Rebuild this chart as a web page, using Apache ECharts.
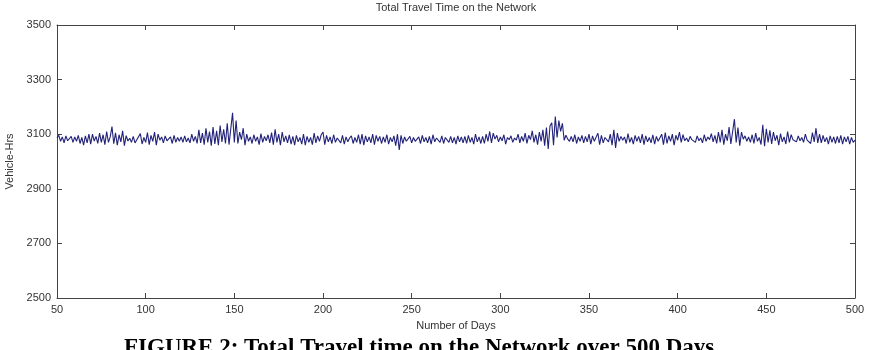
<!DOCTYPE html>
<html><head><meta charset="utf-8">
<script src="https://cdn.jsdelivr.net/npm/echarts@6/dist/echarts.min.js"></script>
<style>html,body{margin:0;padding:0;background:#fff;}#c{width:878px;height:350px;}</style>
</head><body><div id="c"></div>
<script>
var startDay = 50;
var travelTime = [
3086,3096,3074,3090,3068,3094,3076,3072,3092,3070,
3090,3074,3096,3066,3088,3060,3094,3068,3100,3064,
3100,3075,3092,3066,3104,3070,3098,3062,3110,3070,
3090,3128,3065,3105,3060,3098,3072,3112,3058,3095,
3075,3085,3070,3092,3068,3080,3076,3102,3064,3088,
3070,3106,3062,3096,3074,3108,3060,3100,3078,3090,
3068,3094,3076,3072,3090,3066,3096,3070,3088,3074,
3090,3070,3094,3072,3086,3068,3100,3074,3092,3066,
3116,3068,3104,3062,3122,3070,3110,3058,3126,3064,
3112,3060,3132,3072,3118,3066,3140,3062,3120,3178,
3070,3150,3066,3108,3080,3122,3060,3100,3074,3090,
3066,3098,3074,3090,3062,3102,3070,3092,3076,3098,
3068,3106,3062,3118,3070,3100,3060,3108,3072,3094,
3068,3098,3064,3092,3060,3096,3072,3088,3064,3100,
3060,3092,3070,3088,3062,3104,3068,3094,3074,3098,
3108,3062,3096,3072,3090,3066,3098,3070,3086,3092,
3068,3096,3064,3090,3072,3086,3094,3066,3088,3070,
3098,3064,3100,3060,3094,3072,3090,3068,3100,3062,
3096,3074,3092,3066,3090,3070,3098,3064,3088,3072,
3094,3058,3100,3042,3096,3066,3090,3074,3072,3092,
3068,3088,3074,3070,3090,3066,3096,3072,3088,3068,
3092,3064,3098,3072,3086,3090,3070,3094,3066,3088,
3086,3070,3092,3068,3088,3064,3094,3072,3090,3068,
3092,3066,3096,3070,3088,3064,3100,3072,3090,3066,
3092,3066,3100,3074,3110,3068,3104,3082,3096,3072,
3090,3076,3098,3064,3088,3080,3094,3070,3086,3078,
3100,3068,3092,3074,3104,3066,3096,3080,3112,3070,
3098,3062,3108,3074,3116,3058,3124,3046,3130,3142,
3060,3165,3088,3150,3110,3140,3078,3096,3082,3074,
3092,3072,3098,3066,3090,3074,3096,3068,3092,3072,
3100,3064,3094,3074,3070,3104,3062,3096,3068,3088,
3088,3072,3100,3060,3116,3050,3104,3074,3092,3078,
3090,3066,3102,3070,3088,3064,3096,3074,3092,3068,
3100,3062,3094,3072,3088,3068,3098,3064,3092,3074,
3070,3100,3062,3106,3066,3094,3074,3100,3060,3096,
3078,3108,3070,3098,3076,3086,3072,3092,3080,3084,
3070,3094,3076,3086,3068,3098,3074,3090,3080,3102,
3072,3096,3066,3108,3070,3116,3062,3100,3076,3126,
3064,3110,3155,3070,3124,3058,3108,3082,3094,3074,
3090,3070,3098,3066,3104,3074,3088,3062,3134,3056,
3120,3070,3114,3064,3108,3076,3096,3060,3102,3072,
3090,3064,3110,3070,3098,3080,3086,3072,3094,3076,
3088,3070,3100,3078,3084,3066,3106,3072,3122,3068,
3100,3068,3096,3072,3088,3064,3094,3070,3090,3066,
3092,3068,3096,3064,3090,3072,3092,3064,3088,3070,
3078
];
var xTicks = [50,100,150,200,250,300,350,400,450,500];
var yTicks = [2500,2700,2900,3100,3300,3500];
var titleText = 'Total Travel Time on the Network';
var xName = 'Number of Days';
var yName = 'Vehicle-Hrs';
var captionText = 'FIGURE 2: Total Travel time on the Network over 500 Days';

var points = travelTime.map(function(v,i){return [startDay+i, v];});
var font = 'Arial, "Liberation Sans", sans-serif';
var txt = '#333';
var axisCommon = {
  axisLine:{show:true,onZero:false,lineStyle:{color:'#444',width:1}},
  axisTick:{show:true,inside:true,length:5,lineStyle:{color:'#444'}},
  splitLine:{show:false}
};
var chart = echarts.init(document.getElementById('c'));
chart.setOption({
  animation:false,
  backgroundColor:'#fff',
  title:{text:titleText,left:456,top:2,padding:0,textAlign:'center',
    textStyle:{fontFamily:font,fontSize:11,fontWeight:'normal',color:txt}},
  grid:{left:57,right:23,top:25,bottom:52,containLabel:false,outerBoundsMode:'none'},
  xAxis:[
    Object.assign({type:'value',min:50,max:500,interval:50,position:'bottom',
      name:xName,nameLocation:'middle',nameGap:22,
      nameTextStyle:{fontFamily:font,fontSize:11,color:txt},
      axisLabel:{fontFamily:font,fontSize:11,color:txt,margin:6,
        formatter:function(v){return xTicks.indexOf(v)>=0?String(v):'';}}},axisCommon),
    Object.assign({type:'value',min:50,max:500,interval:50,position:'top',
      axisLabel:{show:false}},axisCommon)
  ],
  yAxis:[
    Object.assign({type:'value',min:2500,max:3500,interval:200,position:'left',
      name:yName,nameLocation:'middle',nameGap:42,nameRotate:90,
      nameTextStyle:{fontFamily:font,fontSize:11,color:txt},
      axisLabel:{fontFamily:font,fontSize:11,color:txt,margin:6,
        formatter:function(v){return yTicks.indexOf(v)>=0?String(v):'';}}},axisCommon),
    Object.assign({type:'value',min:2500,max:3500,interval:200,position:'right',
      axisLabel:{show:false}},axisCommon)
  ],
  series:[{type:'line',data:points,showSymbol:false,symbol:'none',
    lineStyle:{color:'#22227a',width:1.1},xAxisIndex:0,yAxisIndex:0}],
  graphic:[{type:'text',left:124,top:337,
    style:{text:captionText,fontFamily:'"Liberation Serif","Times New Roman",serif',
      fontSize:23,fontWeight:'bold',fill:'#000'}}]
});
</script></body></html>
